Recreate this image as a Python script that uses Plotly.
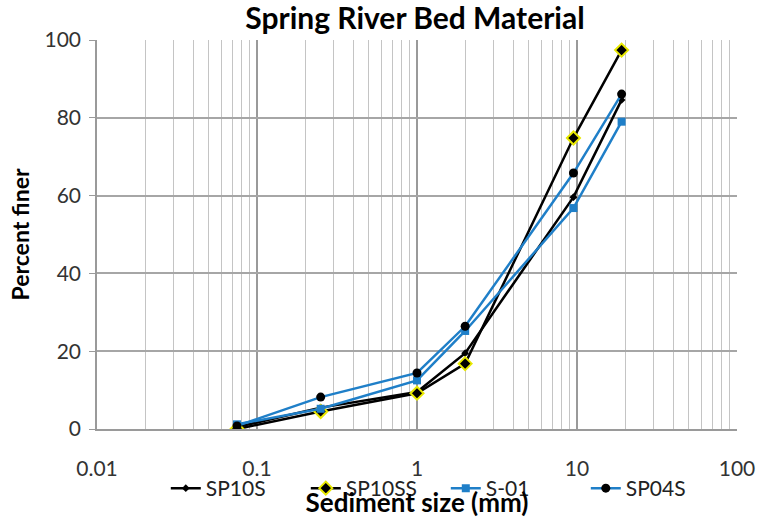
import plotly.graph_objects as go

# Sieve sizes (mm) and percent finer for each sample
sizes = [0.075, 0.25, 1.0, 2.0, 9.5, 19.0]
sp10s = [0.5, 5.5, 9.5, 19.5, 59.6, 84.6]
sp10ss = [0.0, 4.5, 9.2, 16.8, 74.8, 97.4]
s01 = [1.2, 5.2, 12.5, 25.2, 56.8, 79.0]
sp04s = [0.8, 8.2, 14.4, 26.4, 65.8, 86.1]

# Log-axis gridlines: decades and the 2..9 subdivisions
decades = [0.01, 0.1, 1, 10, 100]
minor_vals = [d * k for d in decades[:-1] for k in range(2, 10)]

BLUE = "#1f7fc8"
BLACK = "#000000"
YELLOW = "#e8e800"
FONT = "Lato, Open Sans, sans-serif"

fig = go.Figure()
fig.add_trace(go.Scatter(
    x=sizes, y=sp10s, name="SP10S", mode="lines+markers",
    line=dict(color=BLACK, width=2.5),
    marker=dict(symbol="diamond", size=6, color=BLACK),
))
fig.add_trace(go.Scatter(
    x=sizes, y=sp10ss, name="SP10SS", mode="lines+markers",
    line=dict(color=BLACK, width=2.5),
    marker=dict(symbol="diamond", size=10, color=BLACK,
                line=dict(color=YELLOW, width=2)),
))
fig.add_trace(go.Scatter(
    x=sizes, y=s01, name="S-01", mode="lines+markers",
    line=dict(color=BLUE, width=2.5),
    marker=dict(symbol="square", size=8, color=BLUE),
))
fig.add_trace(go.Scatter(
    x=sizes, y=sp04s, name="SP04S", mode="lines+markers",
    line=dict(color=BLUE, width=2.5),
    marker=dict(symbol="circle", size=9, color=BLACK),
))

fig.update_layout(
    width=760, height=518,
    margin=dict(l=97, r=23, t=40, b=89, autoexpand=False),
    paper_bgcolor="white", plot_bgcolor="white",
    title=dict(text="<b>Spring River Bed Material</b>", x=0.546, xanchor="center",
               y=0.965, yanchor="middle",
               font=dict(family=FONT, size=30, color="#000")),
    font=dict(family=FONT, color="#333"),
    showlegend=True,
    legend=dict(orientation="h", x=0.545, xanchor="center", y=-0.153, yanchor="middle",
                font=dict(family=FONT, size=21, color="#222"), bgcolor="rgba(0,0,0,0)",
                entrywidth=95, tracegroupgap=0),
)

fig.update_xaxes(
    type="log", range=[-2, 2], automargin=False,
    tickvals=decades, ticktext=["0.01", "0.1", "1", "10", "100"],
    tickfont=dict(family=FONT, size=21, color="#333"),
    ticklabelstandoff=20,
    showgrid=True, gridcolor="#9a9a9a", gridwidth=1.5,
    minor=dict(tickvals=minor_vals, showgrid=True, gridcolor="#c4c4c4", gridwidth=1.2,
               ticks=""),
    showline=True, linecolor="#9a9a9a", linewidth=1.5,
    zeroline=False, ticks="",
    title=dict(text="<b>Sediment size (mm)</b>", standoff=16,
               font=dict(family=FONT, size=26, color="#000")),
)
fig.update_yaxes(
    range=[0, 100], tickvals=[0, 20, 40, 60, 80, 100], automargin=False,
    tickfont=dict(family=FONT, size=21, color="#333"),
    ticklabelstandoff=4,
    showgrid=True, gridcolor="#a6a6a6", gridwidth=1.5,
    showline=True, linecolor="#9a9a9a", linewidth=1.5,
    ticks="outside", ticklen=6, tickcolor="#9a9a9a",
    zeroline=False,
    title=dict(text="<b>Percent finer</b>", standoff=8,
               font=dict(family=FONT, size=23, color="#000")),
)

fig.write_html("out.html")
